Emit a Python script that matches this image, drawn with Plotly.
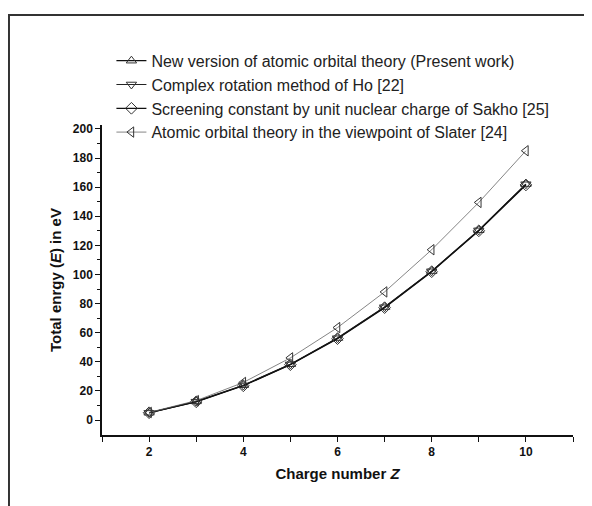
import plotly.graph_objects as go

Z = [2, 3, 4, 5, 6, 7, 8, 9, 10]
present = [5.0, 12.8, 23.9, 38.3, 56.3, 77.6, 102.3, 130.4, 162.1]
ho = [4.9, 12.6, 23.7, 38.2, 56.2, 77.5, 102.2, 130.3, 162.0]
sakho = [5.0, 12.5, 23.5, 38.0, 55.9, 77.2, 101.9, 130.0, 161.5]
slater = [5.2, 13.3, 25.8, 42.7, 63.5, 88.0, 117.0, 149.5, 185.0]

names = [
    "New version of atomic orbital theory (Present work)",
    "Complex rotation method of Ho [22]",
    "Screening constant by unit nuclear charge of Sakho [25]",
    "Atomic orbital theory in the viewpoint of Slater [24]",
]
series = [present, ho, sakho, slater]
symbols = ["triangle-up-open", "triangle-down-open", "diamond-open", "triangle-left-open"]
colors = ["#111111", "#222222", "#111111", "#666666"]
widths = [1.2, 1.2, 1.2, 0.8]

FONT = "Liberation Sans, Arial, sans-serif"
fig = go.Figure()
for n, s, sym, c, w in zip(names, series, symbols, colors, widths):
    fig.add_trace(go.Scatter(
        x=Z, y=s, name=n, mode="lines+markers",
        line=dict(color=c, width=w),
        marker=dict(symbol=sym, size=9, color="#333333", line=dict(width=1, color="#333333")),
    ))

fig.update_layout(
    width=584, height=498,
    margin=dict(l=94, r=19, t=117, b=71),
    paper_bgcolor="white", plot_bgcolor="white",
    font=dict(family=FONT, color="#111111"),
    showlegend=True,
    legend=dict(x=0.02, y=1.262, xanchor="left", yanchor="top",
                font=dict(size=16, color="#222222"), bgcolor="rgba(0,0,0,0)",
                tracegroupgap=0, itemwidth=30),
    xaxis=dict(range=[1, 11], tickvals=[2, 4, 6, 8, 10], ticks="outside", ticklen=5,
               tickwidth=1.2, tickcolor="#111", showline=True, linecolor="#111", linewidth=1.5,
               showgrid=False, zeroline=False,
               tickfont=dict(size=12, family=FONT, weight="bold"),
               minor=dict(tickvals=[1, 3, 5, 7, 9, 11], ticks="outside", ticklen=5, tickcolor="#111"),
               title=dict(text="Charge number <i>Z</i>", font=dict(size=15, family=FONT, weight="bold"), standoff=10)),
    yaxis=dict(range=[-10.3, 202.7], tickvals=list(range(0, 201, 20)), ticks="outside", ticklen=5,
               tickwidth=1.2, tickcolor="#111", showline=True, linecolor="#111", linewidth=1.5,
               showgrid=False, zeroline=False,
               tickfont=dict(size=12, family=FONT, weight="bold"),
               minor=dict(tickvals=list(range(10, 200, 20)), ticks="outside", ticklen=3, tickcolor="#111"),
               title=dict(text="Total enrgy (<i>E</i>) in eV", font=dict(size=15, family=FONT, weight="bold"), standoff=8)),
)

fig.add_shape(type="rect", xref="paper", yref="paper", x0=-0.1975, x1=1.2, y0=-0.5, y1=1.355,
              line=dict(color="#333333", width=2), fillcolor="rgba(0,0,0,0)", layer="below")

fig.write_html("out.html")
